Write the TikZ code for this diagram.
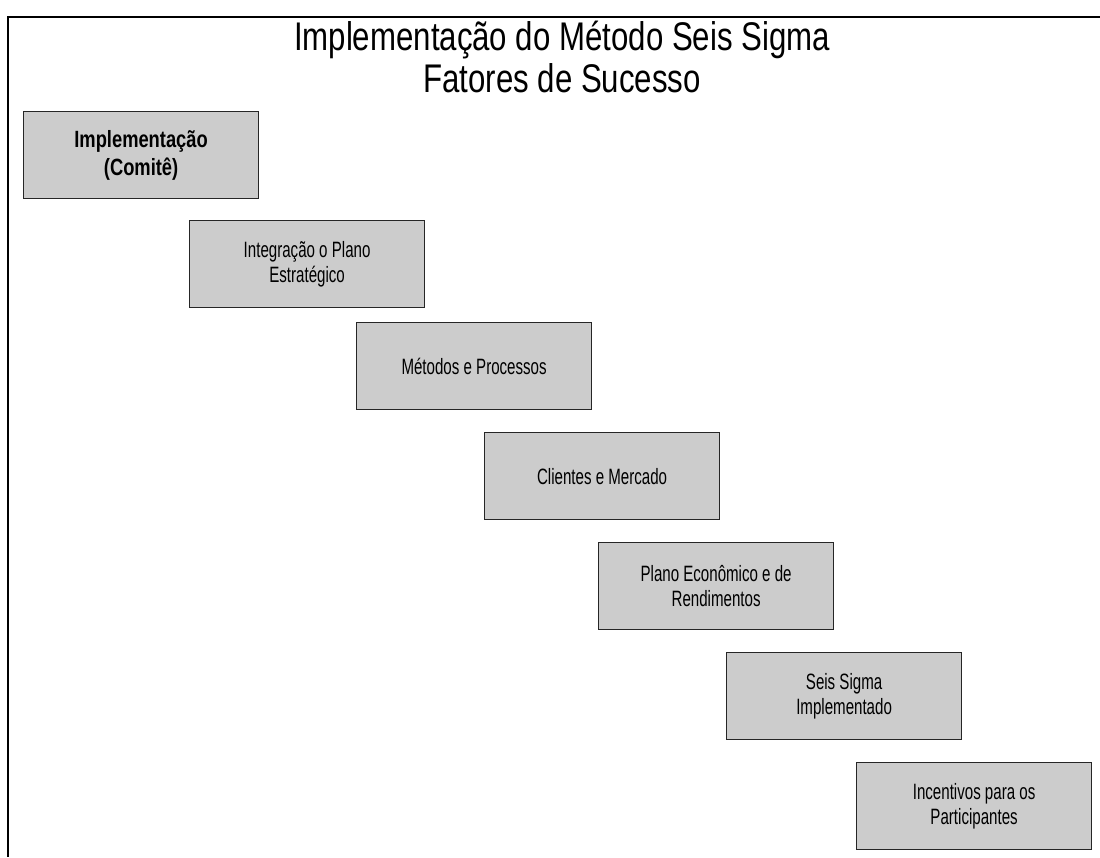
\documentclass[tikz,border=0pt]{standalone}
\usepackage{fontspec}
\setmainfont{Liberation Sans}[FakeStretch=0.78]
\newfontfamily\narrowfont{Liberation Sans}[FakeStretch=0.68]
\begin{document}
\begin{tikzpicture}[x=1pt,y=-1pt,
  stepbox/.style={draw=black!85, line width=1.2pt, fill=black!20, minimum width=235pt, minimum height=87pt, inner sep=0pt, align=center, font=\narrowfont\fontsize{22.2}{25}\selectfont, anchor=north west},
  boldbox/.style={stepbox, font=\fontsize{23.5}{28}\selectfont\bfseries},
  titletext/.style={font=\fontsize{40}{37}\selectfont, align=center}]
\useasboundingbox (0,0) rectangle (1100,857);
\fill[white] (0,0) rectangle (1100,857);
\draw[line width=2pt] (1100,17) -- (8,17) -- (8,857);
\node[titletext] (t1) at (562,40) {Implementação do Método Seis Sigma};
\node[titletext] (t2) at (562,78) {Fatores de Sucesso};
\node[boldbox] (b1) at (23,111) {Implementação\\(Comitê)};
\node[stepbox] (b2) at (189,220) {Integração o Plano\\Estratégico};
\node[stepbox] (b3) at (356,322) {Métodos e Processos};
\node[stepbox] (b4) at (484,432) {Clientes e Mercado};
\node[stepbox] (b5) at (598,542) {Plano Econômico e de\\Rendimentos};
\node[stepbox] (b6) at (726,652) {Seis Sigma\\Implementado};
\node[stepbox] (b7) at (856,762) {Incentivos para os\\Participantes};
\end{tikzpicture}
\end{document}
